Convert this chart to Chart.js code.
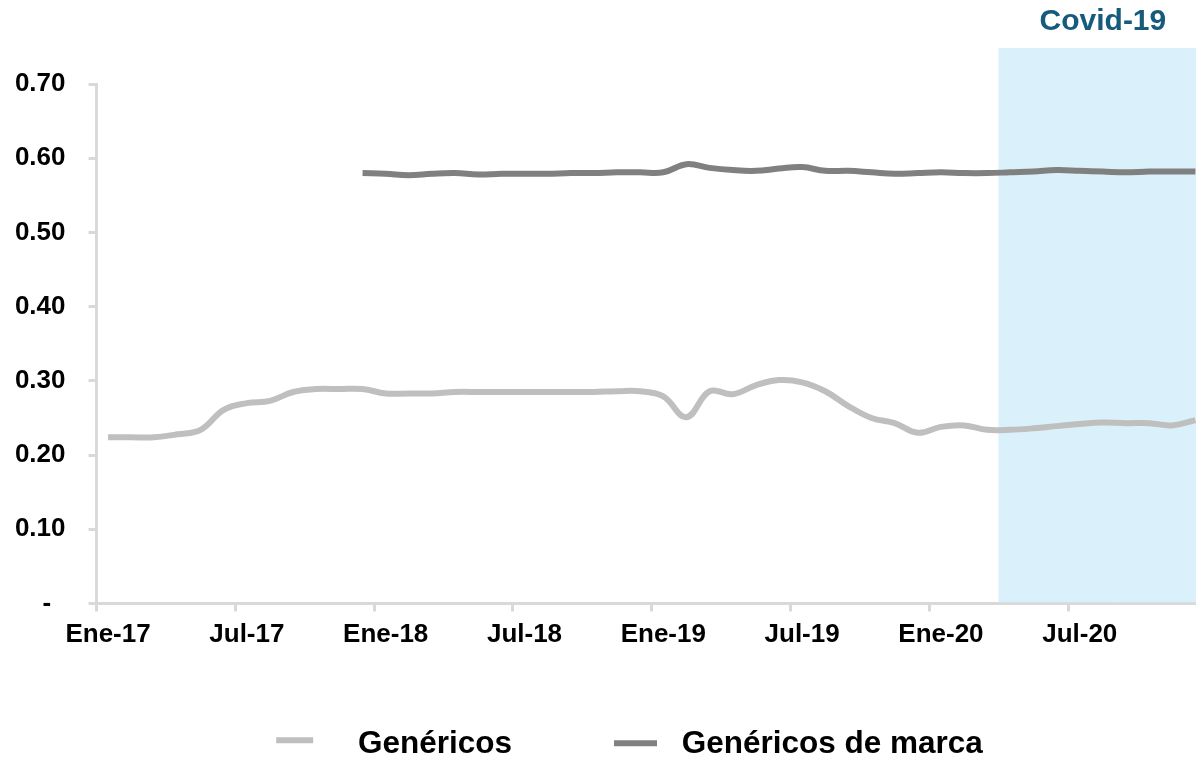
<!DOCTYPE html>
<html>
<head>
<meta charset="utf-8">
<script src="https://cdn.jsdelivr.net/npm/chart.js@4"></script>
<style>
  body { margin: 0; overflow: hidden; background: #fff; }
</style>
</head>
<body>
<canvas id="genChart" width="1207" height="758"></canvas>
<script>
const meses = [
    'Ene-17', 'Feb-17', 'Mar-17', 'Abr-17', 'May-17', 'Jun-17', 'Jul-17', 'Ago-17', 'Sep-17', 'Oct-17', 'Nov-17', 'Dic-17',
    'Ene-18', 'Feb-18', 'Mar-18', 'Abr-18', 'May-18', 'Jun-18', 'Jul-18', 'Ago-18', 'Sep-18', 'Oct-18', 'Nov-18', 'Dic-18',
    'Ene-19', 'Feb-19', 'Mar-19', 'Abr-19', 'May-19', 'Jun-19', 'Jul-19', 'Ago-19', 'Sep-19', 'Oct-19', 'Nov-19', 'Dic-19',
    'Ene-20', 'Feb-20', 'Mar-20', 'Abr-20', 'May-20', 'Jun-20', 'Jul-20', 'Ago-20', 'Sep-20', 'Oct-20', 'Nov-20', 'Dic-20'
];

const genericos = [
    0.224, 0.224, 0.224, 0.228, 0.234, 0.261, 0.270, 0.273, 0.285, 0.289, 0.289, 0.289,
    0.283, 0.283, 0.283, 0.285, 0.285, 0.285, 0.285, 0.285, 0.285, 0.285, 0.286, 0.286,
    0.279, 0.251, 0.286, 0.282, 0.294, 0.301, 0.298, 0.286, 0.266, 0.250, 0.243, 0.230,
    0.238, 0.240, 0.234, 0.234, 0.236, 0.239, 0.242, 0.244, 0.243, 0.243, 0.240, 0.247
];

const genericosMarca = [
    null, null, null, null, null, null, null, null, null, null, null, 0.580,
    0.579, 0.577, 0.579, 0.580, 0.578, 0.579, 0.579, 0.579, 0.580, 0.580, 0.581, 0.581,
    0.581, 0.592, 0.587, 0.584, 0.583, 0.586, 0.588, 0.583, 0.583, 0.581, 0.579, 0.580,
    0.581, 0.580, 0.580, 0.581, 0.582, 0.584, 0.583, 0.582, 0.581, 0.582, 0.582, 0.582
];

// periodo covid (sombreado)
const covid = [
    null, null, null, null, null, null, null, null, null, null, null, null,
    null, null, null, null, null, null, null, null, null, null, null, null,
    null, null, null, null, null, null, null, null, null, null, null, null,
    null, null, null, 0.748, 0.748, 0.748, 0.748, 0.748, 0.748, 0.748, 0.748, 0.748
];

const yTicks = [0, 0.1, 0.2, 0.3, 0.4, 0.5, 0.6, 0.7];

const FONT = "'Liberation Sans', Arial, sans-serif";

// little line images for the legend
function legendLine(color, start, len, top) {
    const c = document.createElement('canvas');
    c.width = 118;
    c.height = 16;
    const g = c.getContext('2d');
    g.fillStyle = color;
    g.fillRect(start, top, len, 6);
    return c;
}

const covidLabel = {
    id: 'covidLabel',
    afterDraw(chart) {
        const x = chart.scales.x;
        const first = covid.findIndex(v => v !== null);
        const cx = (x.getPixelForValue(first) + x.getPixelForValue(covid.length - 1)) / 2;
        const ctx = chart.ctx;
        ctx.save();
        ctx.font = 'bold 30px ' + FONT;
        ctx.fillStyle = '#165A7C';
        ctx.textAlign = 'center';
        ctx.textBaseline = 'middle';
        ctx.fillText('Covid-19', cx, 22);
        ctx.restore();
    }
};

const genChart = new Chart(document.getElementById('genChart'), {
    data: {
        labels: meses,
        datasets: [
            {
                type: 'line', label: 'Genéricos', data: genericos,
                borderColor: '#BFBFBF', backgroundColor: '#BFBFBF', borderWidth: 6,
                pointRadius: 0, tension: 0.4, fill: false, order: 1,
                pointStyle: legendLine('#BFBFBF', 52, 37, 1)
            },
            {
                type: 'line', label: 'Genéricos de marca', data: genericosMarca,
                borderColor: '#808080', backgroundColor: '#808080', borderWidth: 6,
                pointRadius: 0, tension: 0.4, fill: false, order: 1,
                pointStyle: legendLine('#808080', 66, 43, 4)
            },
            {
                type: 'bar', label: 'Covid-19', data: covid,
                backgroundColor: '#DAF1FC', borderWidth: 0,
                barPercentage: 1, categoryPercentage: 1, clip: false, order: 10
            }
        ]
    },
    options: {
        responsive: false,
        animation: false,
        layout: { padding: { top: 84, left: 0, right: 0, bottom: 0 } },
        plugins: {
            tooltip: { enabled: false },
            legend: {
                position: 'bottom',
                maxHeight: 65.5,
                labels: {
                    usePointStyle: true,
                    pointStyleWidth: 118,
                    padding: 36,
                    color: '#000',
                    font: { family: FONT, size: 31.5, weight: 'bold' },
                    filter: item => item.text !== 'Covid-19'
                }
            }
        },
        scales: {
            x: {
                offset: true,
                z: 1,
                afterFit: scale => { scale.height = 89; },
                grid: {
                    offset: true,
                    drawOnChartArea: false,
                    tickLength: 8,
                    lineWidth: 3,
                    tickColor: c => c.index % 6 === 0 ? '#D9D9D9' : 'rgba(0,0,0,0)'
                },
                border: { color: '#D9D9D9', width: 3 },
                ticks: {
                    autoSkip: false,
                    maxRotation: 0,
                    padding: 8,
                    color: '#000',
                    font: { family: FONT, size: 26, weight: 'bold' },
                    callback: (v, i) => i % 6 === 0 ? meses[i] : ''
                }
            },
            y: {
                min: yTicks[0],
                max: yTicks[yTicks.length - 1],
                afterFit: scale => { scale.width = 96.5; },
                afterBuildTicks: scale => { scale.ticks = yTicks.map(v => ({ value: v })); },
                grid: {
                    drawOnChartArea: false,
                    tickLength: 8,
                    lineWidth: 3,
                    color: '#D9D9D9'
                },
                border: { color: '#D9D9D9', width: 3 },
                ticks: {
                    padding: 23,
                    color: '#000',
                    font: { family: FONT, size: 26, weight: 'bold' },
                    callback: v => v === 0 ? '-  ' : v.toFixed(2)
                }
            }
        }
    },
    plugins: [covidLabel]
});
</script>
</body>
</html>
